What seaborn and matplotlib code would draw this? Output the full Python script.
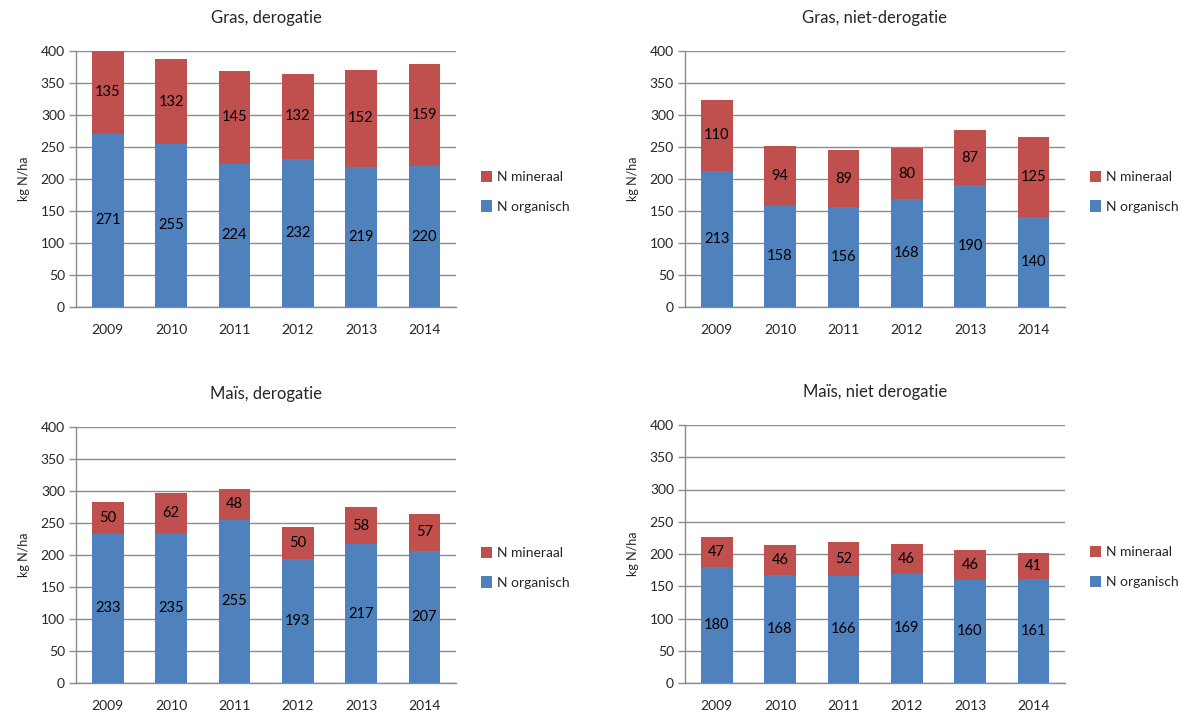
import numpy as np
import pandas as pd
import matplotlib
matplotlib.use("Agg")
import matplotlib.pyplot as plt
from matplotlib.patches import Patch
import seaborn as sns

years = ["2009", "2010", "2011", "2012", "2013", "2014"]

titles = ["Gras, derogatie", "Gras, niet-derogatie", "Maïs, derogatie", "Maïs, niet derogatie"]

gras_derog_org = [271, 255, 224, 232, 219, 220]
gras_derog_min = [135, 132, 145, 132, 152, 159]
gras_niet_org = [213, 158, 156, 168, 190, 140]
gras_niet_min = [110, 94, 89, 80, 87, 125]
mais_derog_org = [233, 235, 255, 193, 217, 207]
mais_derog_min = [50, 62, 48, 50, 58, 57]
mais_niet_org = [180, 168, 166, 169, 160, 161]
mais_niet_min = [47, 46, 52, 46, 46, 41]

series_labels = ["N mineraal", "N organisch"]
y_ticks = [0, 50, 100, 150, 200, 250, 300, 350, 400]
y_label = "kg N/ha"

BLUE = "#4F81BD"
RED = "#C0504D"
GRID = "#8C8C8C"

sns.set_theme(style="white")
plt.rcParams["font.family"] = ["Lato", "DejaVu Sans"]

W, H = 1182, 715
fig = plt.figure(figsize=(W / 100, H / 100), dpi=100)
fig.patch.set_facecolor("white")

# pixel boxes: (left, top_of_400, right, y_of_0)
boxes = [
    (76, 51, 456, 307),
    (685, 51, 1065, 307),
    (76, 427, 456, 683),
    (685, 425, 1065, 683),
]
panels = [
    (gras_derog_org, gras_derog_min),
    (gras_niet_org, gras_niet_min),
    (mais_derog_org, mais_derog_min),
    (mais_niet_org, mais_niet_min),
]

ymax = y_ticks[-1]

for (l, t, r, b), title, (org, mnr) in zip(boxes, titles, panels):
    ax = fig.add_axes([l / W, 1 - b / H, (r - l) / W, (b - t) / H])
    df = pd.DataFrame({"jaar": years, "org": org, "min": mnr})
    df["totaal"] = df["org"] + df["min"]

    ax.set_axisbelow(True)
    for v in y_ticks:
        ax.axhline(v, color=GRID, lw=1.0, zorder=0)

    sns.barplot(data=df, x="jaar", y="totaal", color=RED, saturation=1,
                width=0.5, ax=ax, zorder=2, linewidth=0)
    sns.barplot(data=df, x="jaar", y="org", color=BLUE, saturation=1,
                width=0.5, ax=ax, zorder=3, linewidth=0)

    for i, (o, m) in enumerate(zip(org, mnr)):
        top = min(o + m, ymax)
        ax.text(i, o / 2, str(o), ha="center", va="center", fontsize=10.5,
                color="black", zorder=5)
        ax.text(i, (o + top) / 2, str(m), ha="center", va="center",
                fontsize=10.5, color="black", zorder=5)

    ax.set_ylim(0, ymax)
    ax.set_xlim(-0.5, len(years) - 0.5)
    ax.set_yticks(y_ticks)
    ax.set_yticklabels([str(v) for v in y_ticks], fontsize=10)
    ax.set_xticks(range(len(years)))
    ax.set_xticklabels(years, fontsize=10)
    ax.set_xticks(np.arange(-0.5, len(years)), minor=True)
    ax.tick_params(axis="x", which="major", length=0, pad=12)
    ax.tick_params(axis="x", which="minor", length=5, width=1, color=GRID, direction="out")
    ax.tick_params(axis="y", length=5, width=1, color=GRID, direction="out", pad=3,
                   left=True)
    ax.set_xlabel("")
    ax.set_ylabel(y_label, fontsize=9, labelpad=8)
    ax.set_title(title, fontsize=12, pad=20)

    for side in ["top", "right"]:
        ax.spines[side].set_visible(False)
    for side in ["left", "bottom"]:
        ax.spines[side].set_visible(True)
        ax.spines[side].set_color(GRID)
        ax.spines[side].set_linewidth(1.0)

    handles = [Patch(facecolor=RED, edgecolor="none"), Patch(facecolor=BLUE, edgecolor="none")]
    ax.legend(handles, series_labels, loc="center left", bbox_to_anchor=(1.05, 0.45),
              frameon=False, fontsize=10, handlelength=0.8, handleheight=0.9,
              handletextpad=0.4, labelspacing=1.25, borderaxespad=0)

fig.savefig("out.png", dpi=100, facecolor="white")
